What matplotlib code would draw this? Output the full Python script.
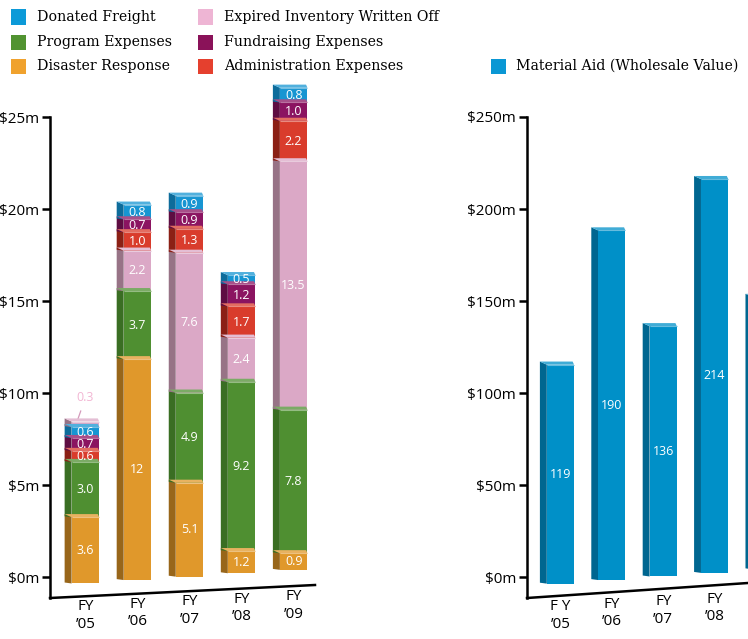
import matplotlib
matplotlib.use("Agg")
import matplotlib.pyplot as plt
from matplotlib.patches import Rectangle, Polygon
import matplotlib.colors as mcolors

# ---------------- data ----------------
years = ["’05", "’06", "’07", "’08", "’09"]
disaster = [3.6, 12, 5.1, 1.2, 0.9]
program = [3.0, 3.7, 4.9, 9.2, 7.8]
expired = [0.3, 2.2, 7.6, 2.4, 13.5]
admin = [0.6, 1.0, 1.3, 1.7, 2.2]
fundraising = [0.7, 0.7, 0.9, 1.2, 1.0]
freight = [0.6, 0.8, 0.9, 0.5, 0.8]
material_aid = [119, 190, 136, 214, 148]
material_labels = ["119", "190", "136", "214", ""]
right_year_labels = ["F Y\n’05", "FY\n’06", "FY\n’07", "FY\n’08", ""]
left_ticks = [0, 5, 10, 15, 20, 25]
right_ticks = [0, 50, 100, 150, 200, 250]

series = {
    "Donated Freight": freight,
    "Program Expenses": program,
    "Disaster Response": disaster,
    "Expired Inventory Written Off": expired,
    "Fundraising Expenses": fundraising,
    "Administration Expenses": admin,
}

# ---------------- style ----------------
front_col = {
    "Donated Freight": "#1795d2",
    "Program Expenses": "#4f8f31",
    "Disaster Response": "#e0982b",
    "Expired Inventory Written Off": "#dba8c6",
    "Fundraising Expenses": "#8b1461",
    "Administration Expenses": "#d93c2c",
}
side_col = {
    "Donated Freight": "#0d6c9b",
    "Program Expenses": "#3a6e23",
    "Disaster Response": "#98661a",
    "Expired Inventory Written Off": "#977386",
    "Fundraising Expenses": "#5e0d42",
    "Administration Expenses": "#8b2015",
}
legend_col = {
    "Donated Freight": "#0c9ad8",
    "Program Expenses": "#519331",
    "Disaster Response": "#f0a22e",
    "Expired Inventory Written Off": "#eeb5d4",
    "Fundraising Expenses": "#8a1259",
    "Administration Expenses": "#e5402e",
}
aid_front, aid_side, aid_legend = "#0090c8", "#006690", "#0a97d4"

# stacking order (bottom -> top)
order_first = ["Disaster Response", "Program Expenses", "Administration Expenses",
               "Fundraising Expenses", "Donated Freight", "Expired Inventory Written Off"]
order_rest = ["Disaster Response", "Program Expenses", "Expired Inventory Written Off",
              "Administration Expenses", "Fundraising Expenses", "Donated Freight"]

W = 748
H = 639
fig = plt.figure(figsize=(W / 100, H / 100), dpi=100)

tick_font = dict(family=["Open Sans", "DejaVu Sans"], size=11)
val_font = dict(family=["Open Sans", "DejaVu Sans"], size=9)


def lighten(c, f=0.35):
    r, g, b = mcolors.to_rgb(c)
    return (r + (1 - r) * f, g + (1 - g) * f, b + (1 - b) * f)


def draw_box(ax, x, y0, h, fc, sc, w, d, e, z=3):
    x0, x1 = x - w / 2, x + w / 2
    ax.add_patch(Polygon([(x0 - d, y0 + e * 0.3), (x0, y0), (x0, y0 + h), (x0 - d, y0 + h + e)],
                         closed=True, fc=sc, ec="none", clip_on=False, zorder=z))
    ax.add_patch(Rectangle((x0, y0), w, h, fc=fc, ec="none", clip_on=False, zorder=z))
    ax.add_patch(Polygon([(x0, y0 + h), (x1, y0 + h), (x1 - d * 0.2, y0 + h + e),
                          (x0 - d, y0 + h + e)],
                         closed=True, fc=lighten(fc, 0.25), ec="none", clip_on=False, zorder=z + 0.5))
    ax.plot([x0, x1], [y0 + h, y0 + h], color=lighten(fc, 0.4), lw=0.8,
            clip_on=False, zorder=z + 0.6, solid_capstyle="butt")


def style_axis(ax, ticks, labels, ylim, xlim, slant):
    ax.set_xlim(*xlim)
    ax.set_ylim(*ylim)
    for s in ["top", "right", "bottom"]:
        ax.spines[s].set_visible(False)
    ax.spines["left"].set_linewidth(1.8)
    ax.spines["left"].set_bounds(ylim[0], ticks[-1])
    ax.set_yticks(ticks)
    ax.set_yticklabels(labels, **tick_font)
    ax.tick_params(axis="y", direction="out", length=6, width=1.8, pad=2)
    ax.set_xticks([])
    ax.patch.set_alpha(0)
    ax.plot([0, 1], [0, slant], transform=ax.transAxes, color="black", lw=1.8,
            clip_on=False, solid_capstyle="projecting")


# ---------------- left panel ----------------
ax1 = fig.add_axes([50 / W, (H - 598) / H, 265 / W, 481 / H])
ylim1 = (-1.14, 25.0)
style_axis(ax1, left_ticks, [f"${t}m" for t in left_ticks], ylim1, (-0.68, 4.41), 13 / 481)
w, d = 0.53, 0.134
e1 = 0.17
for i in range(len(years)):
    base = -0.35 + 0.185 * i
    y = base
    order = order_first if i == 0 else order_rest
    for name in order:
        v = series[name][i]
        draw_box(ax1, i, y, v, front_col[name], side_col[name], w, d, e1)
        if name == "Expired Inventory Written Off" and v < 0.5:
            ax1.annotate(f"{v:.1f}", xy=(i - 0.15, y + v + e1 * 0.5), xytext=(i, y + v + 1.3),
                         ha="center", va="center", color="#f2b6d3", **val_font,
                         arrowprops=dict(arrowstyle="-", color="#d49abb", lw=0.9,
                                         shrinkA=3, shrinkB=0))
        else:
            txt = f"{v:g}" if v >= 10 and float(v).is_integer() else f"{v:.1f}"
            ax1.text(i, y + v / 2, txt, ha="center", va="center", color="white",
                     zorder=10, **val_font)
        y += v
    ax1.annotate(f"FY\n{years[i]}", xy=(i, ylim1[0]), xycoords="data",
                 xytext=(0, -1 + 1.8 * i), textcoords="offset points",
                 ha="center", va="top", linespacing=1.2, annotation_clip=False, **tick_font)

# ---------------- right panel ----------------
ax2 = fig.add_axes([527 / W, (H - 598) / H, 221 / W, 481 / H])
ylim2 = (-11.4, 250)
style_axis(ax2, right_ticks, [f"${t}m" for t in right_ticks], ylim2, (-0.65, 3.65), 15 / 481)
e2 = 1.7
for i in range(len(years)):
    base = -3.6 + 1.95 * i
    draw_box(ax2, i, base, material_aid[i], aid_front, aid_side, w, d, e2)
    if material_labels[i]:
        ax2.text(i, base + material_aid[i] / 2, material_labels[i], ha="center", va="center",
                 color="white", zorder=10, **val_font)
    if right_year_labels[i]:
        ax2.annotate(right_year_labels[i], xy=(i, ylim2[0]), xycoords="data",
                     xytext=(0, -1 + 1.8 * i), textcoords="offset points",
                     ha="center", va="top", linespacing=1.2, annotation_clip=False, **tick_font)

# ---------------- legend ----------------
leg_font = dict(family=["DejaVu Serif"], size=10.2)
legend_items = [
    ("Donated Freight", 11, 17),
    ("Program Expenses", 11, 42),
    ("Disaster Response", 11, 66),
    ("Expired Inventory Written Off", 198, 17),
    ("Fundraising Expenses", 198, 42),
    ("Administration Expenses", 198, 66),
]
sq = 15
for name, px, py in legend_items:
    fig.patches.append(Rectangle((px / W, (H - py - sq / 2) / H), sq / W, sq / H,
                                 transform=fig.transFigure, fc=legend_col[name], ec="none"))
    fig.text((px + 26) / W, (H - py) / H, name, ha="left", va="center", **leg_font)
fig.patches.append(Rectangle((491 / W, (H - 66 - sq / 2) / H), sq / W, sq / H,
                             transform=fig.transFigure, fc=aid_legend, ec="none"))
fig.text(516 / W, (H - 66) / H, "Material Aid (Wholesale Value)", ha="left", va="center",
         **leg_font)

fig.savefig("out.png", dpi=100)
